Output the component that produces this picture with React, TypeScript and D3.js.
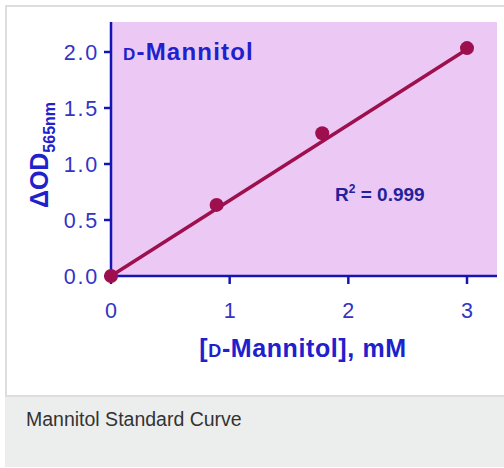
import React from "react";
import * as d3 from "d3";

const concentrations = [0, 0.89, 1.78, 3];
const deltaOD = [0, 0.635, 1.275, 2.035];
const xTicks = [0, 1, 2, 3];
const yTicks = [0, 0.5, 1.0, 1.5, 2.0];
const fitSlope = 0.675;
const fitIntercept = 0.0;
const r2Label = "0.999";
const caption = "Mannitol Standard Curve";

const W = 504;
const H = 468;
const plot = { left: 111, right: 497, top: 22, bottom: 276 };

export default function App() {
  const x = d3.scaleLinear().domain([0, 3]).range([111, 467]);
  const y = d3.scaleLinear().domain([0, 2]).range([276, 52]);
  const line = d3
    .line<number>()
    .x((d) => x(d))
    .y((d) => y(fitIntercept + fitSlope * d));
  const axisColor = "#1515b5";
  const tickColor = "#3333c4";
  const markColor = "#9e0f4e";
  const font = "'Liberation Sans', Arial, Helvetica, sans-serif";

  return (
    <svg
      width={W}
      height={H}
      style={{ position: "absolute", left: 0, top: 0 }}
      fontFamily={font}
    >
      <rect x={0} y={0} width={W} height={H} fill="#ffffff" />
      {/* frame */}
      <rect x={6} y={6} width={W - 5} height={390} fill="#ffffff" stroke="#dddddd" strokeWidth={2} />
      <rect x={5} y={397} width={W - 5} height={70} fill="#eceeed" />
      <text x={26} y={426} fontSize={19.5} fill="#333333">{caption}</text>

      {/* plot background */}
      <rect
        x={plot.left}
        y={plot.top}
        width={plot.right - plot.left}
        height={plot.bottom - plot.top}
        fill="#ecc9f5"
      />

      {/* fit line */}
      <path d={line([0, 3]) || ""} fill="none" stroke={markColor} strokeWidth={3.5} />

      {/* axes */}
      <line x1={plot.left} x2={plot.left} y1={plot.top} y2={plot.bottom + 4} stroke={axisColor} strokeWidth={2.5} />
      <line x1={plot.left - 4} x2={plot.right} y1={plot.bottom} y2={plot.bottom} stroke={axisColor} strokeWidth={2.5} />
      {yTicks.map((t) => (
        <g key={"y" + t}>
          <line x1={plot.left - 7} x2={plot.left} y1={y(t)} y2={y(t)} stroke={axisColor} strokeWidth={2.5} />
          <text x={plot.left - 12} y={y(t)} dy="0.36em" textAnchor="end" fontSize={21.5} letterSpacing={1.8} fill={tickColor}>
            {t.toFixed(1)}
          </text>
        </g>
      ))}
      {xTicks.map((t) => (
        <g key={"x" + t}>
          <line x1={x(t)} x2={x(t)} y1={plot.bottom} y2={plot.bottom + 8} stroke={axisColor} strokeWidth={2.5} />
          <text x={x(t)} y={318} textAnchor="middle" fontSize={21.5} fill={tickColor}>
            {t}
          </text>
        </g>
      ))}

      {/* points */}
      {concentrations.map((c, i) => (
        <circle key={i} cx={x(c)} cy={y(deltaOD[i])} r={7} fill={markColor} />
      ))}

      {/* in-plot title */}
      <text x={123} y={60} fontSize={24} fontWeight="bold" letterSpacing={1.2} fill="#2020cc">
        <tspan fontSize={17}>D</tspan>
        <tspan>-Mannitol</tspan>
      </text>

      {/* R squared */}
      <text x={335} y={201} fontSize={19} fontWeight="bold" fill="#22229a">
        <tspan>R</tspan>
        <tspan fontSize={12} dy={-8}>2</tspan>
        <tspan dy={8}>{" = " + r2Label}</tspan>
      </text>

      {/* x-axis title */}
      <text x={303} y={357} textAnchor="middle" fontSize={25} fontWeight="bold" letterSpacing={0.6} fill="#2020cc">
        <tspan>[</tspan>
        <tspan fontSize={18}>D</tspan>
        <tspan>-Mannitol], mM</tspan>
      </text>

      {/* y-axis title */}
      <text
        transform="translate(48,155) rotate(-90)"
        textAnchor="middle"
        fontSize={25}
        fontWeight="bold"
        fill="#2020cc"
      >
        <tspan>ΔOD</tspan>
        <tspan fontSize={16} dy={7}>565nm</tspan>
      </text>
    </svg>
  );
}
